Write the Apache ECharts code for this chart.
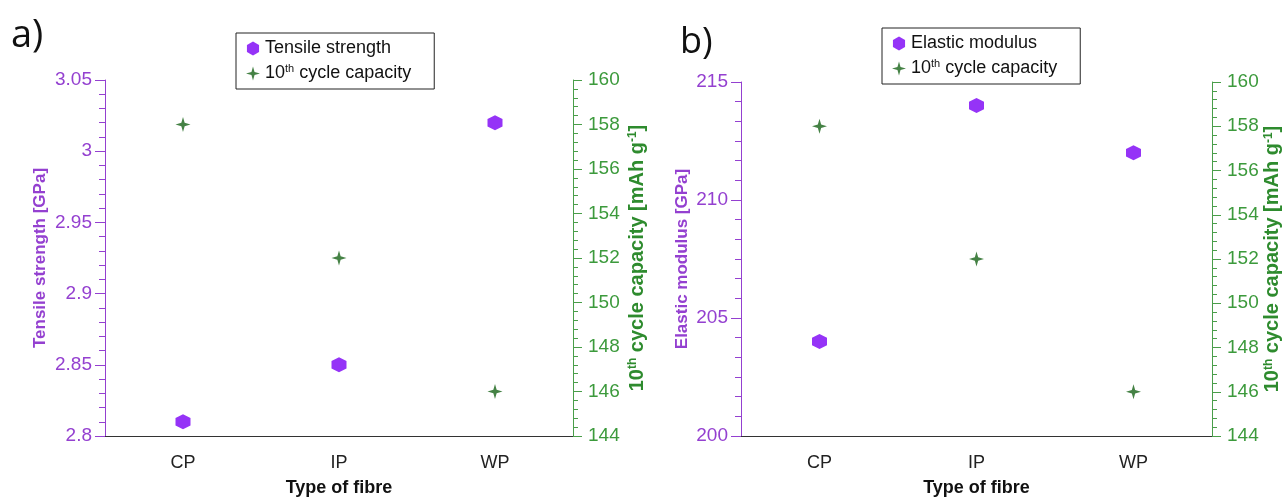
<!DOCTYPE html>
<html>
<head>
<meta charset="utf-8">
<script src="https://cdn.jsdelivr.net/npm/echarts@6/dist/echarts.min.js"></script>
<style>
  html, body { margin: 0; background: #fff; }
  #chart { width: 1282px; height: 498px; }
</style>
</head>
<body>
<div id="chart"></div>
<script>
  // data
  const fibreTypes = ['CP', 'IP', 'WP']
  const tensileStrength = [2.81, 2.85, 3.02]
  const elasticModulus = [204, 214, 212]
  const cycleCapacity = [158, 152, 146]

  const purple = '#7a00f5'
  const purpleAxis = '#9440d0'
  const green = '#166316'
  const greenAxis = '#4a9e4a'
  const font = 'Liberation Sans'

  const hexagon = 'path://M0,-10L8.66,-5L8.66,5L0,10L-8.66,5L-8.66,-5Z'
  const star = 'path://M0,-10L2.2,-2.2L10,0L2.2,2.2L0,10L-2.2,2.2L-10,0L-2.2,-2.2Z'

  const supRich = {
    sup: { fontSize: 11, verticalAlign: 'top', lineHeight: 11, fontFamily: font }
  }

  const chart = echarts.init(document.getElementById('chart'))

  function xAxisFor (grid) {
    return {
      type: 'category',
      gridIndex: grid,
      data: fibreTypes,
      name: 'Type of fibre',
      nameLocation: 'middle',
      nameGap: 43,
      nameTextStyle: { color: '#111', fontSize: 18, fontWeight: 'bold', fontFamily: font },
      axisLine: { lineStyle: { color: '#333', width: 1 } },
      axisTick: { alignWithLabel: true, length: 8, lineStyle: { color: '#333' } },
      axisLabel: { color: '#222', fontSize: 18, margin: 18, fontFamily: font },
      splitLine: { show: false }
    }
  }

  function leftAxis (grid, name, min, max, interval, minorSplit, gap) {
    return {
      type: 'value',
      gridIndex: grid,
      position: 'left',
      min: min,
      max: max,
      interval: interval,
      name: name,
      nameLocation: 'middle',
      nameRotate: 90,
      nameGap: gap,
      nameTextStyle: { color: purpleAxis, fontSize: 17, fontWeight: 'bold', fontFamily: font },
      axisLine: { show: true, lineStyle: { color: purpleAxis } },
      axisTick: { show: true, length: 10, lineStyle: { color: purpleAxis } },
      minorTick: { show: true, splitNumber: minorSplit, length: 6, lineStyle: { color: purpleAxis } },
      axisLabel: { color: purpleAxis, fontSize: 19, margin: 13, fontFamily: font },
      splitLine: { show: false }
    }
  }

  function rightAxis (grid, gap) {
    return {
      type: 'value',
      gridIndex: grid,
      position: 'right',
      min: 144,
      max: 160,
      interval: 2,
      name: '10{sup|th} cycle capacity [mAh g{sup|-1}]',
      nameLocation: 'middle',
      nameRotate: 90,
      nameGap: gap,
      nameTextStyle: {
        color: '#2e8b2e', fontSize: 20, fontWeight: 'bold', fontFamily: font,
        rich: { sup: { fontSize: 12, fontWeight: 'bold', color: '#2e8b2e', verticalAlign: 'top', lineHeight: 12, fontFamily: font } }
      },
      axisLine: { show: true, lineStyle: { color: greenAxis } },
      axisTick: { show: true, length: 9, lineStyle: { color: greenAxis } },
      minorTick: { show: true, splitNumber: 5, length: 5, lineStyle: { color: greenAxis } },
      axisLabel: { color: '#3c9a3c', fontSize: 19, margin: 15, fontFamily: font },
      splitLine: { show: false }
    }
  }

  function legendFor (left, top, firstName) {
    return {
      orient: 'vertical',
      left: left,
      top: top,
      padding: [5, 23, 5, 10],
      itemGap: 4,
      itemWidth: 14,
      itemHeight: 14,
      borderColor: '#222',
      borderWidth: 1,
      data: [
        { name: firstName, icon: hexagon, itemStyle: { color: purple } },
        { name: '10th cycle capacity', icon: star, itemStyle: { color: green } }
      ],
      formatter: name => name === '10th cycle capacity' ? '10{sup|th} cycle capacity' : name,
      textStyle: { color: '#111', fontSize: 18, fontFamily: font, lineHeight: 21, rich: supRich }
    }
  }

  const option = {
    backgroundColor: '#fff',
    animation: false,
    title: [
      { text: 'a)', left: 6, top: 12, textStyle: { fontSize: 38, fontWeight: 'normal', color: '#111', fontFamily: 'Open Sans' } },
      { text: 'b)', left: 675, top: 20, textStyle: { fontSize: 36, fontWeight: 'normal', color: '#111', fontFamily: 'Open Sans' } }
    ],
    legend: [
      legendFor(236, 33, 'Tensile strength'),
      legendFor(882, 28, 'Elastic modulus')
    ],
    grid: [
      { left: 105, right: 709, top: 80, bottom: 62, containLabel: false, outerBoundsMode: 'none' },
      { left: 741, right: 70, top: 82, bottom: 62, containLabel: false, outerBoundsMode: 'none' }
    ],
    xAxis: [xAxisFor(0), xAxisFor(1)],
    yAxis: [
      leftAxis(0, 'Tensile strength [GPa]', 2.8, 3.05, 0.05, 5, 56),
      rightAxis(0, 54),
      leftAxis(1, 'Elastic modulus [GPa]', 200, 215, 5, 6, 50),
      rightAxis(1, 49)
    ],
    series: [
      { name: 'Tensile strength', type: 'scatter', xAxisIndex: 0, yAxisIndex: 0, data: tensileStrength,
        symbol: hexagon, symbolSize: 15, itemStyle: { color: purple } },
      { name: '10th cycle capacity', type: 'scatter', xAxisIndex: 0, yAxisIndex: 1, data: cycleCapacity,
        symbol: star, symbolSize: 15, itemStyle: { color: green } },
      { name: 'Elastic modulus', type: 'scatter', xAxisIndex: 1, yAxisIndex: 2, data: elasticModulus,
        symbol: hexagon, symbolSize: 15, itemStyle: { color: purple } },
      { name: '10th cycle capacity', type: 'scatter', xAxisIndex: 1, yAxisIndex: 3, data: cycleCapacity,
        symbol: star, symbolSize: 15, itemStyle: { color: green } }
    ]
  }

  chart.setOption(option)
</script>
</body>
</html>
